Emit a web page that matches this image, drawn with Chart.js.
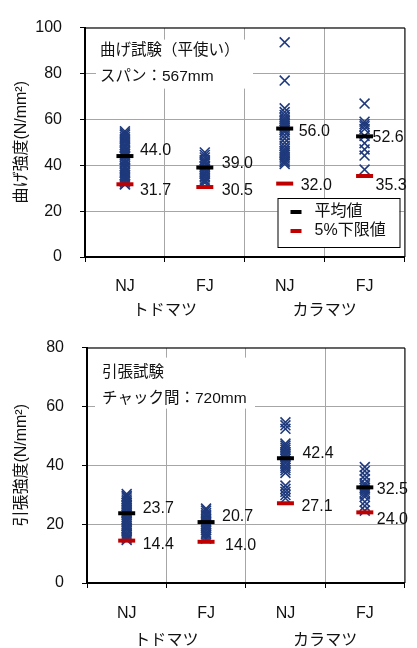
<!DOCTYPE html>
<html>
<head>
<meta charset="utf-8">
<script src="https://cdn.jsdelivr.net/npm/chart.js@4.4.1/dist/chart.umd.min.js"></script>
<style>
  html, body { margin: 0; padding: 0; background: #fff; }
  #wrap { position: relative; width: 417px; height: 648px; }
  canvas { position: absolute; left: 0; display: block; }
</style>
</head>
<body>
<div id="wrap">
  <canvas id="bend" width="417" height="320" style="top:0"></canvas>
  <canvas id="tens" width="417" height="328" style="top:320px"></canvas>
</div>
<script>
// ---- categories ----
const species = ['トドマツ', 'カラマツ'];
const joints = ['NJ', 'FJ'];
const categories = species.flatMap(s => joints.map(j => s + ' ' + j));

// ---- bending test (flatwise), span 567 mm : strength N/mm² ----
const bendTodoNJ = [54.8, 53.9, 53.2, 52.3, 51.4, 50.5, 49.9, 48.8, 48.0, 47.4, 46.4, 45.8, 45.1, 44.2,
                    43.7, 42.7, 42.2, 41.3, 40.7, 39.6, 39.0, 38.3, 37.3, 36.6, 35.7, 34.9, 34.2, 33.2,
                    32.7, 31.9, 31.6];
const bendTodoFJ = [45.6, 44.5, 43.4, 42.3, 41.5, 40.9, 39.8, 39.3, 38.3, 37.8, 36.8, 36.2, 35.3, 34.7,
                    33.7, 33.1, 32.4];
const bendKaraNJ = [93.6, 76.9, 64.8, 63.2, 61.9, 60.8, 59.9, 59.1, 58.4, 57.8, 57.0, 56.3, 55.4, 54.5,
                    53.1, 51.6, 49.9, 48.4, 47.2, 46.3, 45.4, 44.6, 43.7, 42.9, 42.0, 41.3, 40.5];
const bendKaraFJ = [66.9, 59.0, 57.9, 57.0, 55.8, 52.8, 49.6, 46.9, 44.2, 38.1];
const bendMean  = [44.0, 39.0, 56.0, 52.6];
const bendLower = [31.7, 30.5, 32.0, 35.3];

// ---- tension test, chuck distance 720 mm : strength N/mm² ----
const tensTodoNJ = [30.2, 29.6, 29.1, 28.4, 27.8, 27.3, 26.6, 26.1, 25.5, 25.0, 24.3, 23.8, 23.2, 22.5,
                    21.8, 21.2, 20.7, 20.0, 19.3, 18.7, 18.2, 17.5, 16.8, 16.3, 15.6, 15.1, 14.6];
const tensTodoFJ = [25.3, 24.6, 23.8, 23.2, 22.7, 21.9, 21.2, 20.6, 19.9, 19.3, 18.7, 17.9, 17.1, 16.5,
                    15.8, 15.1];
const tensKaraNJ = [54.6, 53.6, 52.4, 47.4, 46.7, 46.0, 45.3, 44.5, 43.8, 43.1, 42.2, 41.4, 40.7, 39.8,
                    39.1, 38.3, 37.4, 33.1, 32.0, 31.0, 29.9, 28.8];
const tensKaraFJ = [39.4, 38.1, 36.6, 35.3, 33.9, 33.2, 32.4, 31.7, 30.9, 30.1, 29.3, 27.6, 26.2, 24.6];
const tensMean  = [23.7, 20.7, 42.4, 32.5];
const tensLower = [14.4, 14.0, 27.1, 24.0];

// ---- styling ----
const FONT = '"Liberation Sans", "Noto Sans CJK JP", sans-serif';
const TEXT = '#111';
const GRID = '#a6a6a6';
const NAVY = '#1f3a7c';
const RED = '#c00000';
Chart.defaults.font.family = FONT;
Chart.defaults.color = TEXT;

function specimens(groups) {
  return groups.flatMap((vals, i) => vals.map(v => ({ x: categories[i], y: v })));
}
function perCategory(vals) {
  return vals.map((v, i) => ({ x: categories[i], y: v }));
}

// note box, legend, value labels, frame
const overlay = {
  id: 'overlay',
  beforeDatasetsDraw(chart, args, o) {
    const { ctx, chartArea: a } = chart;
    ctx.save();
    // frame top / right
    ctx.strokeStyle = '#000';
    ctx.lineWidth = 1;
    ctx.beginPath();
    ctx.moveTo(a.left, a.top + 0.5);
    ctx.lineTo(a.right + 0.5, a.top + 0.5);
    ctx.lineTo(a.right + 0.5, a.bottom);
    ctx.stroke();
    // note box
    const n = o.note;
    ctx.fillStyle = '#fff';
    ctx.fillRect(a.left + n.x, a.top + n.y, n.w, n.h);
    ctx.fillStyle = TEXT;
    ctx.font = '15.5px ' + FONT;
    ctx.textAlign = 'left';
    ctx.textBaseline = 'middle';
    n.lines.forEach((t, i) => ctx.fillText(t, a.left + n.tx, a.top + n.ty[i]));
    ctx.restore();
  },
  afterDatasetsDraw(chart, args, o) {
    const { ctx, chartArea: a } = chart;
    ctx.save();
    ctx.font = '16px ' + FONT;
    ctx.fillStyle = TEXT;
    ctx.textAlign = 'left';
    ctx.textBaseline = 'middle';
    [[1, o.meanOff], [2, o.lowOff]].forEach(([di, off]) => {
      const ds = chart.data.datasets[di];
      chart.getDatasetMeta(di).data.forEach((pt, i) => {
        ctx.fillText(ds.data[i].y.toFixed(1), pt.x + off[i][0], pt.y + off[i][1]);
      });
    });
    if (o.legend) {
      const L = o.legend;
      const x = a.right - L.r, y = a.bottom - L.b;
      ctx.fillStyle = '#fff';
      ctx.fillRect(x, y, L.w, L.h);
      ctx.strokeStyle = '#000';
      ctx.lineWidth = 1;
      ctx.strokeRect(x + 0.5, y + 0.5, L.w, L.h);
      [1, 2].forEach((di, k) => {
        const ds = chart.data.datasets[di];
        const cy = y + L.rows[k];
        ctx.fillStyle = ds.pointBorderColor;
        ctx.fillRect(x + 13, cy - 2, 11, 4);
        ctx.fillStyle = TEXT;
        ctx.fillText(ds.label, x + 37, cy);
      });
    }
    ctx.restore();
  }
};

function build(id, groups, mean, lower, yMax, yTitle, pad, yWidth, xH, x2H, xPad, x2Pad, ov) {
  return new Chart(document.getElementById(id), {
    type: 'line',
    data: {
      datasets: [
        { label: '試験体', data: specimens(groups), showLine: false, pointStyle: 'crossRot',
          pointRadius: 7, pointBorderWidth: 1.6, pointBorderColor: NAVY, pointBackgroundColor: NAVY,
          borderColor: NAVY, order: 2 },
        { label: '平均値', data: perCategory(mean), showLine: false, pointStyle: 'line',
          pointRadius: 8.5, pointBorderWidth: 4, pointBorderColor: '#000', borderColor: '#000', order: 0 },
        { label: '5%下限値', data: perCategory(lower), showLine: false, pointStyle: 'line',
          pointRadius: 8.5, pointBorderWidth: 4, pointBorderColor: RED, borderColor: RED, order: 1 }
      ]
    },
    options: {
      responsive: false,
      animation: false,
      events: [],
      clip: false,
      layout: { padding: pad },
      plugins: { legend: { display: false }, tooltip: { enabled: false }, overlay: ov },
      scales: {
        x: {
          type: 'category', labels: categories, offset: true, weight: 0,
          grid: { offset: true, color: GRID, tickColor: '#000', tickLength: 5 },
          border: { color: '#000', width: 2 },
          ticks: { padding: xPad, color: TEXT, font: { size: 16 }, maxRotation: 0, autoSkip: false,
                   callback: (v, i) => joints[i % joints.length] },
          afterFit(s) { s.height = xH; }
        },
        x2: {
          type: 'category', labels: species, offset: true, position: 'bottom', weight: 1,
          grid: { display: false, drawTicks: false },
          border: { display: false },
          ticks: { padding: x2Pad, color: TEXT, font: { size: 16 }, maxRotation: 0 },
          afterFit(s) { s.height = x2H; }
        },
        y: {
          min: 0, max: yMax,
          ticks: { stepSize: 20, padding: 18, color: TEXT, font: { size: 16 } },
          grid: { color: GRID, tickColor: '#000', tickLength: 5 },
          border: { color: '#000', width: 2 },
          title: { display: true, text: yTitle, color: TEXT, font: { size: 16 }, padding: { top: 12, bottom: 0 } },
          afterFit(s) { s.width = yWidth; }
        }
      }
    },
    plugins: [overlay]
  });
}

build('bend', [bendTodoNJ, bendTodoFJ, bendKaraNJ, bendKaraFJ], bendMean, bendLower, 100,
  '曲げ強度(N/mm²)', { top: 20, right: 12, left: 0, bottom: 0 }, 85, 36, 27, 15, 8, {
    note: { x: 11, y: 12, w: 157, h: 49, tx: 15, ty: [23, 49], lines: ['曲げ試験（平使い）', 'スパン：567mm'] },
    meanOff: [[15, -5], [17, -4], [14, 3], [8, 1]],
    lowOff: [[15, 6], [17, 4], [16, 2], [11, 10]],
    legend: { r: 127, b: 59, w: 122, h: 49, rows: [14, 33] }
  });

build('tens', [tensTodoNJ, tensTodoFJ, tensKaraNJ, tensKaraFJ], tensMean, tensLower, 80,
  '引張強度(N/mm²)', { top: 17, right: 9, left: 0, bottom: 0 }, 87, 36, 29, 16, 12, {
    note: { x: 8, y: 10, w: 160, h: 51, tx: 15, ty: [25, 51], lines: ['引張試験', 'チャック間：720mm'] },
    meanOff: [[16, -5], [16, -5], [17, -5], [12, 2]],
    lowOff: [[16, 4], [19, 4], [16, 3], [12, 7]],
    legend: null
  });
</script>
</body>
</html>
